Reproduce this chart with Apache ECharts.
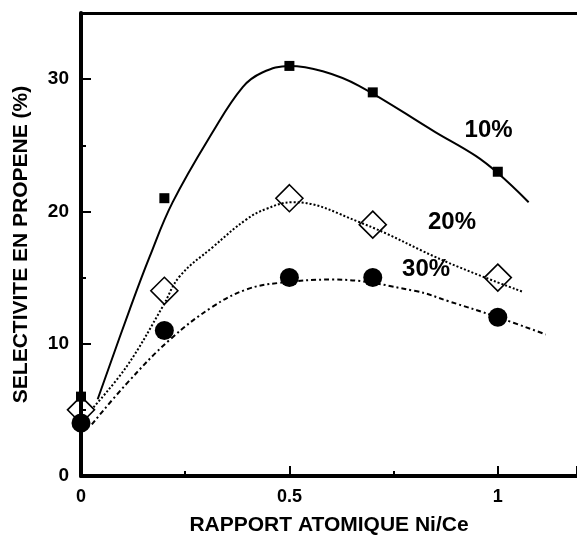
<!DOCTYPE html>
<html>
<head>
<meta charset="utf-8">
<script src="https://cdn.jsdelivr.net/npm/echarts@6/dist/echarts.min.js"></script>
<style>
  html, body { margin: 0; padding: 0; background: #fff; }
  #chart { width: 577px; height: 535px; }
</style>
</head>
<body>
<div id="chart"></div>
<script>
// Mesures (points)
const ratio = [0, 0.2, 0.5, 0.7, 1];
const sel10 = [6, 21, 31, 29, 23];
const sel20 = [5, 14, 21, 19, 15];
const sel30 = [4, 11, 15, 15, 12];

// Courbes tracées à la main
const fit10 = [[0.04, 5.8], [0.117, 12.6], [0.165, 16.6], [0.22, 20.7], [0.316, 26.0],
  [0.388, 29.4], [0.435, 30.5], [0.5, 31.0], [0.58, 30.6], [0.667, 29.5],
  [0.85, 26.0], [0.947, 24.2], [1.0, 22.9], [1.074, 20.7]];
const fit20 = [[0.03, 5.2], [0.11, 8.3], [0.196, 12.8], [0.237, 15.1], [0.316, 17.3], [0.397, 19.4],
  [0.445, 20.2], [0.507, 20.7], [0.667, 19.2], [0.883, 16.1], [1.062, 13.9]];
const fit30 = [[0.026, 3.9], [0.11, 7.0], [0.213, 10.3], [0.316, 12.8], [0.397, 14.1], [0.476, 14.6],
  [0.603, 14.85], [0.8, 14.0], [0.883, 13.2], [1.0, 12.0], [1.115, 10.7]];

// Étiquettes des courbes
const curveNames = ['10%', '20%', '30%'];
const curveLabelPos = [[0.978, 26.1], [0.89, 19.2], [0.828, 15.6]];

const xTicks = { 0: '0', 0.5: '0.5', 1: '1' };

const font = 'Liberation Sans, Arial, sans-serif';
const pair = (xs, ys) => xs.map((x, i) => [x, ys[i]]);

const chart = echarts.init(document.getElementById('chart'));
chart.setOption({
  animation: false,
  grid: { left: 81, right: 0, top: 13, bottom: 59, outerBoundsMode: 'none' },
  xAxis: [{
    type: 'value',
    min: 0,
    max: 1.19,
    interval: 0.5,
    name: 'RAPPORT ATOMIQUE Ni/Ce',
    nameLocation: 'middle',
    nameGap: 39,
    nameTextStyle: { fontFamily: font, fontWeight: 'bold', fontSize: 21, color: '#000' },
    axisLine: { lineStyle: { color: '#000', width: 4 } },
    axisTick: { inside: true, length: 10, lineStyle: { color: '#000', width: 2 } },
    minorTick: { show: true, splitNumber: 2, length: 5, lineStyle: { color: '#000', width: 2 } },
    axisLabel: {
      fontFamily: font, fontWeight: 'bold', fontSize: 18, color: '#000', margin: 12,
      formatter: v => xTicks[v] !== undefined ? xTicks[v] : ''
    },
    splitLine: { show: false }
  }, {
    type: 'value',
    position: 'top',
    min: 0,
    max: 1.19,
    axisLine: { lineStyle: { color: '#000', width: 3 } },
    axisTick: { show: false },
    axisLabel: { show: false },
    splitLine: { show: false }
  }],
  yAxis: {
    type: 'value',
    min: 0,
    max: 35,
    interval: 10,
    name: 'SELECTIVITE EN PROPENE (%)',
    nameLocation: 'middle',
    nameGap: 49,
    nameTextStyle: { fontFamily: font, fontWeight: 'bold', fontSize: 21, color: '#000' },
    axisLine: { show: true, lineStyle: { color: '#000', width: 4 } },
    axisTick: { show: true, inside: true, length: 10, lineStyle: { color: '#000', width: 2 } },
    minorTick: { show: true, splitNumber: 2, length: 5, lineStyle: { color: '#000', width: 2 } },
    axisLabel: {
      fontFamily: font, fontWeight: 'bold', fontSize: 19, color: '#000', margin: 12,
      formatter: v => v > 30 ? '' : String(v)
    },
    splitLine: { show: false }
  },
  series: [
    {
      type: 'line', data: fit10, smooth: 0.4, symbol: 'none',
      lineStyle: { color: '#000', width: 2 }
    },
    {
      type: 'line', data: fit20, smooth: 0.4, symbol: 'none',
      lineStyle: { color: '#000', width: 2, type: [2, 2] }
    },
    {
      type: 'line', data: fit30, smooth: 0.4, symbol: 'none',
      lineStyle: { color: '#000', width: 2, type: [5, 3, 2, 3] }
    },
    {
      type: 'scatter', data: pair(ratio, sel10), symbol: 'rect', symbolSize: 10,
      itemStyle: { color: '#000', opacity: 1 }, z: 5
    },
    {
      type: 'scatter', data: pair(ratio, sel20), symbol: 'diamond', symbolSize: 27,
      itemStyle: { color: 'rgba(255,255,255,0)', borderColor: '#000', borderWidth: 1.6, opacity: 1 }, z: 5
    },
    {
      type: 'scatter', data: pair(ratio, sel30), symbol: 'circle', symbolSize: 19,
      itemStyle: { color: '#000', opacity: 1 }, z: 5
    },
    {
      type: 'scatter', symbolSize: 0, silent: true, z: 6,
      itemStyle: { opacity: 1 },
      data: curveNames.map((n, i) => ({ name: n, value: curveLabelPos[i] })),
      label: {
        show: true, position: 'inside', formatter: p => p.name,
        fontFamily: font, fontWeight: 'bold', fontSize: 24, color: '#000'
      }
    }
  ]
});
</script>
</body>
</html>
